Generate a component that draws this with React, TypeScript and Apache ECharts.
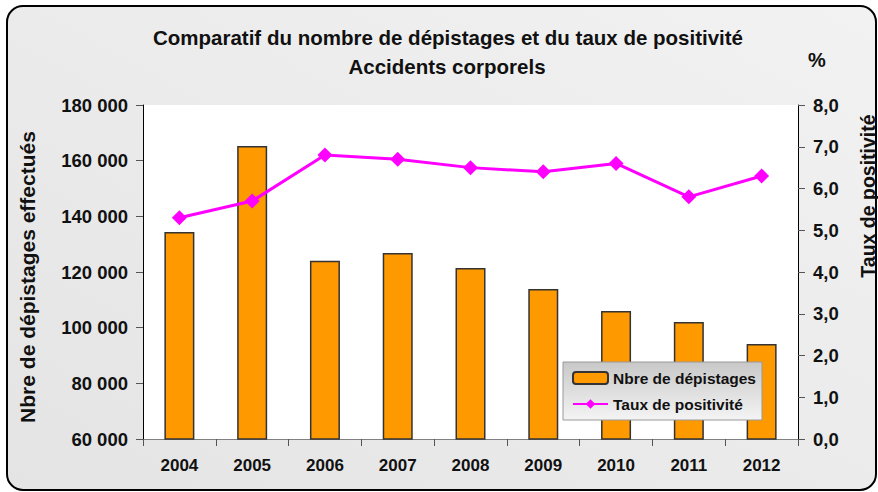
import React, { useEffect, useRef } from "react";
import * as echarts from "echarts";

const years = ["2004", "2005", "2006", "2007", "2008", "2009", "2010", "2011", "2012"];
const depistages = [134400, 165300, 124000, 126800, 121400, 113900, 106000, 102000, 94100];
const positivite = [5.3, 5.7, 6.8, 6.7, 6.5, 6.4, 6.6, 5.8, 6.3];
const leftTicks = { min: 60000, max: 180000, interval: 20000 };
const rightTicks = { min: 0, max: 8, interval: 1 };

const FONT = "'Liberation Sans', Arial, sans-serif";

export default function App() {
  const ref = useRef<HTMLDivElement>(null);
  useEffect(() => {
    document.body.style.margin = "0";
    const chart = echarts.init(ref.current!, null, { renderer: "svg" });
    chart.setOption({
      animation: false,
      textStyle: { fontFamily: FONT },
      graphic: [
        {
          type: "rect",
          z: -10,
          shape: { x: 7, y: 6, width: 869, height: 484, r: 16 },
          style: {
            fill: new echarts.graphic.LinearGradient(1, 0, 0, 1, [
              { offset: 0, color: "#f2f2f2" },
              { offset: 1, color: "#e4e4e4" },
            ]),
            stroke: "#000",
            lineWidth: 2,
          },
        },
        {
          type: "text",
          x: 448,
          y: 37,
          style: {
            text: "Comparatif du nombre de dépistages et du taux de positivité",
            font: `bold 20.5px ${FONT}`,
            fill: "#111",
            align: "center",
            verticalAlign: "middle",
          },
        },
        {
          type: "text",
          x: 447,
          y: 66,
          style: {
            text: "Accidents corporels",
            font: `bold 20.5px ${FONT}`,
            fill: "#111",
            align: "center",
            verticalAlign: "middle",
          },
        },
        {
          type: "text",
          x: 817,
          y: 60,
          style: {
            text: "%",
            font: `bold 20px ${FONT}`,
            fill: "#111",
            align: "center",
            verticalAlign: "middle",
          },
        },
        {
          type: "text",
          x: 27,
          y: 277,
          rotation: Math.PI / 2,
          style: {
            text: "Nbre de dépistages effectués",
            font: `bold 21px ${FONT}`,
            fill: "#111",
            align: "center",
            verticalAlign: "middle",
          },
        },
        {
          type: "text",
          x: 868,
          y: 196,
          rotation: Math.PI / 2,
          style: {
            text: "Taux de positivité",
            font: `bold 19.5px ${FONT}`,
            fill: "#111",
            align: "center",
            verticalAlign: "middle",
          },
        },
      ],
      grid: {
        left: 143,
        right: 80,
        top: 105,
        bottom: 53,
        show: true,
        backgroundColor: "#fff",
        borderWidth: 0,
      },
      legend: {
        left: 563,
        top: 362,
        width: 196,
        orient: "vertical",
        itemGap: 10,
        itemWidth: 35,
        itemHeight: 12,
        padding: [8, 6, 8, 9],
        backgroundColor: new echarts.graphic.LinearGradient(0, 0, 0, 1, [
          { offset: 0, color: "#c8c8c8" },
          { offset: 1, color: "#f4f4f4" },
        ]),
        borderColor: "#999",
        borderWidth: 1,
        textStyle: { fontFamily: FONT, fontWeight: "bold", fontSize: 15.5, color: "#111" },
        data: ["Nbre de dépistages", "Taux de positivité"],
      },
      xAxis: {
        type: "category",
        data: years,
        axisLine: { lineStyle: { color: "#808080", width: 1 } },
        axisTick: { show: true, length: 7, lineStyle: { color: "#555" } },
        axisLabel: {
          margin: 18,
          fontFamily: FONT,
          fontWeight: "bold",
          fontSize: 17,
          color: "#111",
        },
      },
      yAxis: [
        {
          type: "value",
          min: leftTicks.min,
          max: leftTicks.max,
          interval: leftTicks.interval,
          position: "left",
          splitLine: { show: false },
          axisLine: { show: true, lineStyle: { color: "#000", width: 1 } },
          axisTick: { show: true, length: 7, lineStyle: { color: "#555" } },
          axisLabel: {
            margin: 15,
            fontFamily: FONT,
            fontWeight: "bold",
            fontSize: 18.5,
            color: "#111",
            formatter: (v: number) => v.toLocaleString("fr-FR").replace(/\s|\u202f|\u00a0/g, " "),
          },
        },
        {
          type: "value",
          min: rightTicks.min,
          max: rightTicks.max,
          interval: rightTicks.interval,
          position: "right",
          splitLine: { show: false },
          axisLine: { show: true, lineStyle: { color: "#000", width: 1 } },
          axisTick: { show: true, length: 7, lineStyle: { color: "#555" } },
          axisLabel: {
            margin: 15,
            fontFamily: FONT,
            fontWeight: "bold",
            fontSize: 18.5,
            color: "#111",
            formatter: (v: number) => v.toFixed(1).replace(".", ","),
          },
        },
      ],
      series: [
        {
          name: "Nbre de dépistages",
          type: "bar",
          yAxisIndex: 0,
          data: depistages,
          barWidth: 30,
          itemStyle: { color: "#FF9900", borderColor: "#333", borderWidth: 1.5 },
        },
        {
          name: "Taux de positivité",
          type: "line",
          yAxisIndex: 1,
          data: positivite,
          symbol: "diamond",
          symbolSize: 15,
          lineStyle: { color: "#FF00FF", width: 3 },
          itemStyle: { color: "#FF00FF" },
        },
      ],
    });
    return () => chart.dispose();
  }, []);
  return <div ref={ref} style={{ width: 878, height: 492 }} />;
}
